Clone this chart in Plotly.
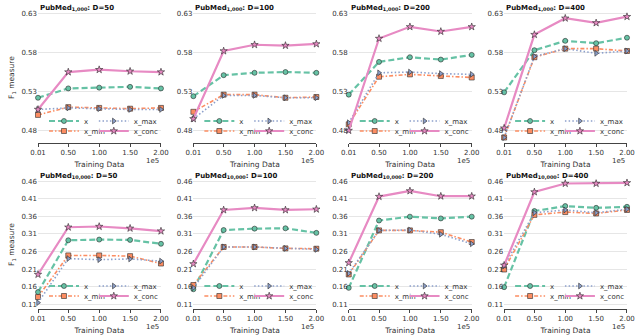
import plotly.graph_objects as go
from plotly.subplots import make_subplots

# training sizes (axis shown in units of 1e5)
train_size = [1000, 50000, 100000, 150000, 200000]
tick_text = ['0.01', '0.50', '1.00', '1.50', '2.00']
dims = [50, 100, 200, 400]
corpora = ['1,000', '10,000']

# PubMed 1,000 -- one list per D (50, 100, 200, 400)
f1_x_1k = [
    [0.522, 0.534, 0.535, 0.536, 0.534],
    [0.524, 0.551, 0.554, 0.555, 0.554],
    [0.526, 0.568, 0.574, 0.571, 0.577],
    [0.529, 0.583, 0.595, 0.592, 0.599],
]
f1_xmin_1k = [
    [0.500, 0.510, 0.509, 0.508, 0.509],
    [0.504, 0.526, 0.526, 0.522, 0.523],
    [0.488, 0.549, 0.552, 0.550, 0.548],
    [0.471, 0.574, 0.585, 0.585, 0.582],
]
f1_xmax_1k = [
    [0.507, 0.509, 0.508, 0.507, 0.507],
    [0.495, 0.525, 0.525, 0.522, 0.522],
    [0.490, 0.554, 0.555, 0.553, 0.552],
    [0.471, 0.575, 0.585, 0.579, 0.582],
]
f1_xconc_1k = [
    [0.507, 0.555, 0.558, 0.556, 0.555],
    [0.495, 0.582, 0.590, 0.589, 0.591],
    [0.480, 0.598, 0.613, 0.607, 0.613],
    [0.483, 0.603, 0.624, 0.618, 0.626],
]

# PubMed 10,000
f1_x_10k = [
    [0.145, 0.292, 0.294, 0.293, 0.282],
    [0.153, 0.321, 0.325, 0.326, 0.313],
    [0.157, 0.348, 0.359, 0.354, 0.359],
    [0.159, 0.375, 0.389, 0.384, 0.387],
]
f1_xmin_10k = [
    [0.131, 0.249, 0.249, 0.247, 0.226],
    [0.165, 0.273, 0.273, 0.269, 0.268],
    [0.195, 0.320, 0.320, 0.315, 0.287],
    [0.209, 0.364, 0.372, 0.368, 0.378],
]
f1_xmax_10k = [
    [0.115, 0.240, 0.237, 0.239, 0.233],
    [0.157, 0.273, 0.273, 0.269, 0.266],
    [0.198, 0.320, 0.321, 0.309, 0.282],
    [0.219, 0.370, 0.378, 0.370, 0.380],
]
f1_xconc_10k = [
    [0.195, 0.329, 0.331, 0.326, 0.318],
    [0.225, 0.378, 0.384, 0.378, 0.380],
    [0.228, 0.416, 0.432, 0.417, 0.417],
    [0.221, 0.429, 0.453, 0.453, 0.455],
]

y_ticks_1k = [0.48, 0.53, 0.58, 0.63]
y_ticks_10k = [0.11, 0.16, 0.21, 0.26, 0.31, 0.36, 0.41, 0.46]

FONT = 'DejaVu Sans'
styles = {
    'x': dict(color='#66c2a5', dash='6px,3px', symbol='circle', width=2.2, size=5),
    'x_min': dict(color='#fc8d62', dash='4px,2px,1.5px,2px', symbol='square', width=1.6, size=5),
    'x_max': dict(color='#8da0cb', dash='1.5px,2.2px', symbol='triangle-right', width=1.6, size=5),
    'x_conc': dict(color='#e78ac3', dash='solid', symbol='star', width=2.2, size=5.5),
}
# legend grid in each panel: (column, row)
legend_pos = {'x': (0, 0), 'x_max': (1, 0), 'x_min': (0, 1), 'x_conc': (1, 1)}

W, H = 642, 336
ml, mr, mt, mb = 38, 13, 12, 27
pw = W - ml - mr
ph = H - mt - mb
panel_w, panel_step = 123.4, 155.9

fig = make_subplots(rows=2, cols=4)

rows_data = [
    (f1_x_1k, f1_xmin_1k, f1_xmax_1k, f1_xconc_1k),
    (f1_x_10k, f1_xmin_10k, f1_xmax_10k, f1_xconc_10k),
]

n_leg = 0
for r in range(2):
    for c in range(4):
        k = r * 4 + c
        series = dict(zip(['x', 'x_min', 'x_max', 'x_conc'],
                          [rows_data[r][i][c] for i in range(4)]))
        if r == 0:
            row_px = [121, 131]
        else:
            row_px = [286, 296]
        for name, vals in series.items():
            s = styles[name]
            n_leg += 1
            leg_id = 'legend' if n_leg == 1 else f'legend{n_leg}'
            fig.add_trace(go.Scatter(
                x=train_size, y=vals, name=name, mode='lines+markers',
                line=dict(color=s['color'], dash=s['dash'], width=s['width']),
                marker=dict(symbol=s['symbol'], size=s['size'], color=s['color'],
                            line=dict(color='rgba(40,40,40,0.85)', width=0.7)),
                cliponaxis=False,
                legend=leg_id,
            ), row=r + 1, col=c + 1)
            col, row = legend_pos[name]
            fig.update_layout(**{leg_id: dict(
                x=(c * panel_step + 6 + 50 * col) / pw,
                y=(H - mb - row_px[row]) / ph,
                xanchor='left', yanchor='middle',
                bgcolor='rgba(0,0,0,0)', borderwidth=0, itemwidth=30,
                font=dict(size=7, color='#333', family=FONT))})

        x0 = (c * panel_step) / pw
        x1 = min(1.0, (c * panel_step + panel_w) / pw)
        xa = 'xaxis' if k == 0 else f'xaxis{k + 1}'
        ya = 'yaxis' if k == 0 else f'yaxis{k + 1}'
        if r == 0:
            ydom = [(H - mb - 143) / ph, 1.0]
            yr = [0.464, 0.632]
            yt = y_ticks_1k
        else:
            ydom = [0.0, (H - mb - 180) / ph]
            yr = [0.097, 0.463]
            yt = y_ticks_10k
        fig.update_layout(**{
            xa: dict(domain=[x0, x1], range=[1000, 200000], automargin=False,
                     tickvals=train_size, ticktext=tick_text,
                     showline=True, linecolor='#444', linewidth=1,
                     ticks='outside', ticklen=3, tickcolor='#444',
                     showgrid=False, zeroline=False,
                     tickfont=dict(size=7, color='#333'),
                     title=dict(text='Training Data', font=dict(size=7.5, color='#333'),
                                standoff=5)),
            ya: dict(domain=ydom, range=yr, tickvals=yt, automargin=False,
                     ticktext=['%.2f' % v for v in yt],
                     showgrid=True, gridcolor='#e6e6e6', gridwidth=1,
                     zeroline=False, showline=False, ticks='',
                     tickfont=dict(size=7, color='#333')),
        })
        if c == 0:
            fig.update_layout(**{ya: dict(title=dict(text='F<sub>1</sub> measure',
                                                     font=dict(size=7.5, color='#333'),
                                                     standoff=5))})

        xref = 'x domain' if k == 0 else f'x{k + 1} domain'
        yref = 'y domain' if k == 0 else f'y{k + 1} domain'
        fig.add_annotation(text=f'<b>PubMed<sub>{corpora[r]}</sub>: D={dims[c]}</b>',
                           xref=xref, yref=yref, x=0.0, y=1, xanchor='left',
                           yanchor='bottom', yshift=-2, showarrow=False,
                           font=dict(size=7, color='#111'))
        fig.add_annotation(text='1e5', xref=xref, yref=yref, x=1, y=0,
                           xanchor='right', yanchor='top', yshift=-12,
                           showarrow=False, font=dict(size=7, color='#333'))

fig.update_layout(
    width=W, height=H,
    margin=dict(l=ml, r=mr, t=mt, b=mb),
    paper_bgcolor='white', plot_bgcolor='white',
    font=dict(family=FONT, color='#333'),
    showlegend=True,
)

# the page's default body margin would shift the chart by 8px
fig.write_html("out.html", config={'displayModeBar': False},
               post_script="document.body.style.margin='0px';")
